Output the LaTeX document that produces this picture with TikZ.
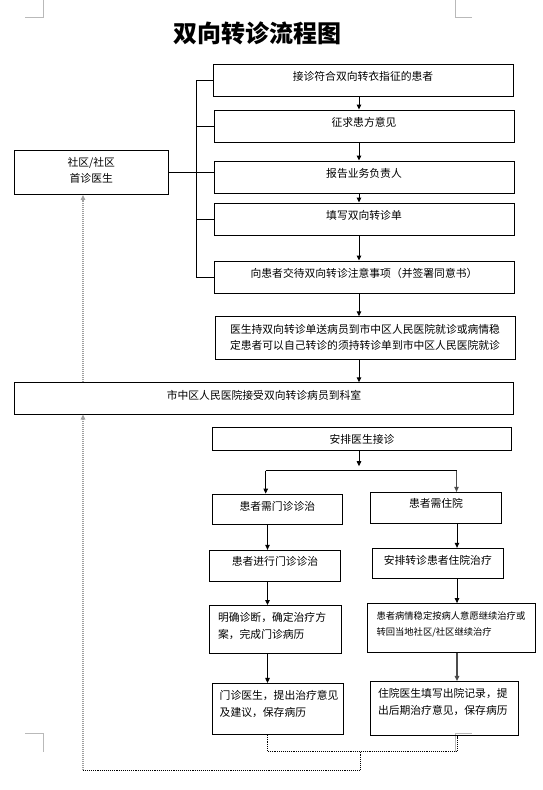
\documentclass[tikz,border=0pt]{standalone}
\usepackage{fontspec}
\setmainfont{Noto Sans CJK SC}
\usepackage{tikz}
\usetikzlibrary{positioning}
\usetikzlibrary{calc}
\usetikzlibrary{arrows.meta}

\begin{document}
\begin{tikzpicture}[x=1pt,y=-1pt,line width=0.9pt,
  >={Triangle[length=5pt,width=4.5pt]},
  box/.style={draw,rectangle,inner sep=0pt,minimum width=300pt,minimum height=32pt,
    text height=8pt,text depth=6.4pt,font=\fontsize{10.8}{16.2}\selectfont},
  twoline/.style={align=center,text width=#1},
  leftline/.style={align=left,text width=#1,font=\fontsize{10.8}{17.3}\selectfont},
  back/.style={gray!75,line width=1.2pt,dash pattern=on 1pt off 1pt}
]
\useasboundingbox (0,0) rectangle (542,790);

%page corners
\foreach \x/\y/\dx/\dy in {43/17/-18/-17, 455/17/17/-17, 43/733/-18/19, 455/733/17/19}
  \draw[gray!55,line width=0.8pt] (\x+\dx,\y) -- (\x,\y) -- (\x,\y+\dy);

\node[font=\fontsize{24}{24}\selectfont\bfseries] (title) at (257.5,33.5) {双向转诊流程图};

%columns of the arrows
\coordinate (spine) at (196,0);
\coordinate (midcol) at (359,0);
\coordinate (leftcol) at (267.5,0);
\coordinate (rightcol) at (457,0);

%upper chain
\node[box] (jiezhen) at (363,80) {接诊符合双向转衣指征的患者};
\node[box] (zhengqiu) at (364,126) {征求患方意见};
\node[box] (baogao) at (364,177) {报告业务负责人};
\node[box] (tianxie) at (364,219) {填写双向转诊单};
\node[box] (jiaodai) at (364,277) {向患者交待双向转诊注意事项（并签署同意书）};
\node[box,minimum height=42.5pt,twoline=290pt,text depth=16.8pt] (songzhen) at (365,338)
  {医生持双向转诊单送病员到市中区人民医院就诊或病情稳\\定患者可以自己转诊的须持转诊单到市中区人民医院就诊};
\node[box,minimum width=154.5pt,minimum height=44.5pt,twoline=140pt,text depth=20.3pt,
  font=\fontsize{10.8}{16}\selectfont] (shequ) at (91.25,172.25) {社区/社区\\首诊医生};
\node[box,minimum width=499.5pt,minimum height=31.3pt] (jieshou) at (264,398.4)
  {市中区人民医院接受双向转诊病员到科室};

%lower part
\node[box,minimum width=299.4pt,minimum height=23.4pt,text height=10pt,text depth=1.8pt] (anpai) at (362,439) {安排医生接诊};
\node[box,minimum width=130pt,minimum height=30.3pt,text depth=4.8pt] (menzhen) at (277.3,509.2) {患者需门诊诊治};
\node[box,minimum width=131.4pt,minimum height=31pt,text depth=8.8pt] (zhuyuan) at (436,507.8) {患者需住院};
\node[box,minimum width=131.4pt,minimum height=31.4pt,text depth=8.4pt] (jinxing) at (275,566) {患者进行门诊诊治};
\node[box,minimum width=131pt,minimum height=30pt] (anpaizy) at (437.8,563.3) {安排转诊患者住院治疗};
\node[box,minimum width=131.5pt,minimum height=47.8pt,leftline=114.9pt,text depth=24pt] (mingque) at (275.5,629.4)
  {明确诊断，确定治疗方\\案，完成门诊病历};
\node[box,minimum width=167.5pt,minimum height=48.7pt,leftline=150pt,text depth=25.6pt,
  font=\fontsize{9.3}{16.6}\selectfont] (bingqing) at (451.5,627.9)
  {患者病情稳定按病人意愿继续治疗或\\转回当地社区/社区继续治疗};
\node[box,minimum width=131pt,minimum height=51pt,leftline=116.6pt,text depth=27.6pt] (yisheng) at (278,708.9)
  {门诊医生，提出治疗意见\\及建议，保存病历};
\node[box,minimum width=148pt,minimum height=53.7pt,leftline=132pt,text depth=29.4pt] (chuyuan) at (444,708.2)
  {住院医生填写出院记录，提\\出后期治疗意见，保存病历};

%arrows of the upper chain
\foreach \a/\b in {jiezhen/zhengqiu, zhengqiu/baogao, baogao/tianxie, tianxie/jiaodai, jiaodai/songzhen, songzhen/jieshou}
  \draw[->] (\a.south -| midcol) -- (\b.north -| midcol);

%bracket on the left side
\draw (jiezhen.west) -- (jiezhen.west -| spine) -- (jiaodai.west -| spine) -- (jiaodai.west);
\foreach \b in {zhengqiu, tianxie}
  \draw (\b.west -| spine) -- (\b.west);
\draw (shequ.east) -- (shequ.east -| baogao.west);

%fork
\coordinate (forkL) at (265.7,470.7);
\coordinate (forkR) at (456.5,470.7);
\draw[->,shorten >=4.5pt] (anpai.south -| midcol) -- (forkL -| midcol);
\draw (forkL) -- (forkR);
\draw[->] (forkL) -- (forkL |- menzhen.north);
\draw[->,gray!60!black] (forkR) -- (forkR |- zhuyuan.north);

\foreach \a/\b in {menzhen/jinxing, jinxing/mingque, mingque/yisheng}
  \draw[->] (\a.south -| leftcol) -- (\b.north -| leftcol);
\foreach \a/\b in {zhuyuan/anpaizy, anpaizy/bingqing}
  \draw[->] (\a.south -| rightcol) -- (\b.north -| rightcol);
\draw[->,gray!60!black,line width=1.4pt] (bingqing.south -| rightcol) -- (chuyuan.north -| rightcol);

%way back
\coordinate (merge) at (360,751.6);
\coordinate (retour) at (83,770.2);
\draw[densely dotted] (yisheng.south -| leftcol) |- (merge) -| (chuyuan.south -| rightcol);
\draw[densely dotted] (merge) |- (retour);
\draw[back,->] (retour) -- (retour |- jieshou.south);
\draw[back,->] (jieshou.north -| retour) -- (shequ.south -| retour);

\end{tikzpicture}
\end{document}
